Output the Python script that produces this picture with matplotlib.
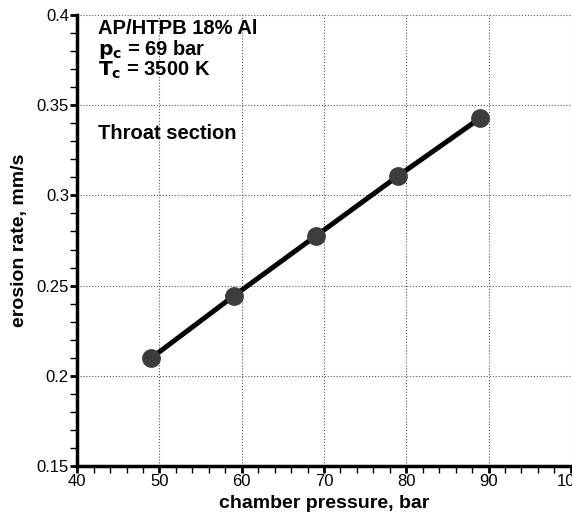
import matplotlib
matplotlib.use('Agg')
import matplotlib.pyplot as plt
from matplotlib.ticker import MultipleLocator

plt.rcParams['font.family'] = ['Liberation Sans', 'DejaVu Sans']

pressure = [49, 59, 69, 79, 89]
erosion = [0.2099, 0.2442, 0.2775, 0.3108, 0.3429]

fig = plt.figure(figsize=(5.72, 5.15), dpi=100)
ax = fig.add_axes([0.135, 0.095, 0.863, 0.876])

ax.plot(pressure, erosion, '-', color='black', lw=3.6, zorder=3)
ax.plot(pressure, erosion, 'o', color='#3c3c3c', ms=12.5, zorder=4)

ax.set_xlim(40, 100)
ax.set_ylim(0.15, 0.4)
ax.xaxis.set_major_locator(MultipleLocator(10))
ax.xaxis.set_minor_locator(MultipleLocator(2))
ax.yaxis.set_minor_locator(MultipleLocator(0.01))
ax.set_yticks([0.15, 0.2, 0.25, 0.3, 0.35, 0.4])
ax.set_yticklabels(['0.15', '0.2', '0.25', '0.3', '0.35', '0.4'])

ax.grid(True, which='major', ls=':', color='#555555', lw=0.8)
ax.spines['top'].set_visible(False)
ax.spines['right'].set_visible(False)
ax.spines['left'].set_linewidth(2.5)
ax.spines['bottom'].set_linewidth(2.5)
ax.tick_params(which='major', direction='out', length=5, width=2, labelsize=12, pad=1)
ax.tick_params(which='minor', direction='out', length=5, width=1)
ax.tick_params(top=False, right=False)

ax.set_xlabel('chamber pressure, bar', fontsize=14, fontweight='bold', labelpad=4)
ax.set_ylabel('erosion rate, mm/s', fontsize=14, fontweight='bold', labelpad=6)

ax.text(0.042, 0.99, 'AP/HTPB 18% Al\n$\\mathbf{p_c}$ = 69 bar\n$\\mathbf{T_c}$ = 3500 K',
        transform=ax.transAxes, fontsize=14.5, fontweight='bold', va='top',
        linespacing=0.95)
ax.text(0.042, 0.737, 'Throat section', transform=ax.transAxes, fontsize=14.5,
        fontweight='bold', va='center')

fig.savefig('out.png', dpi=100)
